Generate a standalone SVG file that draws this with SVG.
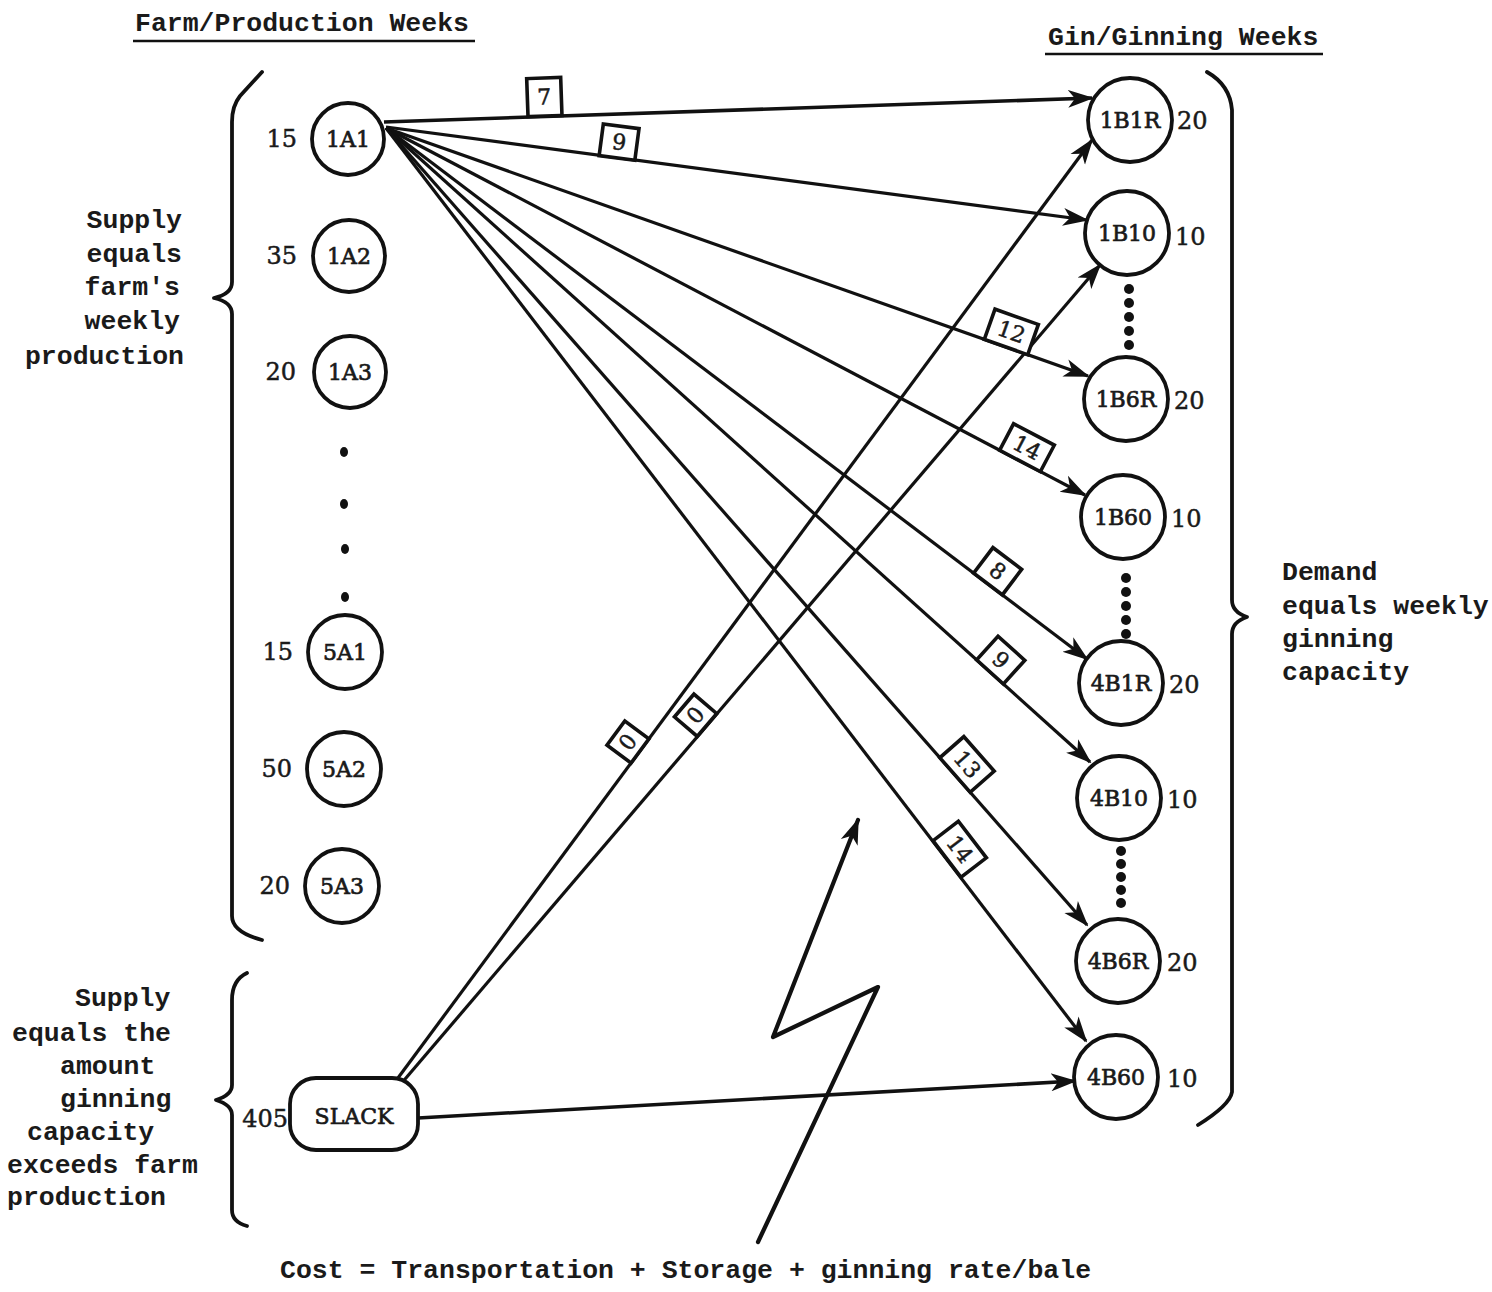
<svg xmlns="http://www.w3.org/2000/svg" width="1492" height="1292" viewBox="0 0 1492 1292">
  <style>
    .type { font-family: "Liberation Mono", "DejaVu Sans Mono", monospace; font-weight: bold; font-size: 26.5px; fill: #1a1a1a; }
    .lbl { font-family: "DejaVu Serif", "Liberation Serif", serif; font-size: 22px; fill: #1a1a1a; stroke: #1a1a1a; stroke-width: 0.7; text-anchor: middle; dominant-baseline: central; }
    .tag { font-family: "DejaVu Serif", "Liberation Serif", serif; font-size: 22px; fill: #1a1a1a; stroke: #1a1a1a; stroke-width: 0.5; text-anchor: middle; dominant-baseline: central; }
    .qty { font-family: "DejaVu Serif", "Liberation Serif", serif; font-size: 24px; fill: #1a1a1a; stroke: #1a1a1a; stroke-width: 0.5; }
    .node { fill: #fff; stroke: #111; stroke-width: 3.8; }
    .edge { fill: none; stroke: #111; stroke-width: 3.2; marker-end: url(#arr); }
    .brace { fill: none; stroke: #111; stroke-width: 3.8; stroke-linecap: round; stroke-linejoin: round; }
    .costbox { fill: #fff; stroke: #111; stroke-width: 3.6; }
    .dot { fill: #111; }
  </style>
  <defs>
    <marker id="arr" viewBox="0 0 26 20" refX="24" refY="10" markerWidth="26" markerHeight="20" markerUnits="userSpaceOnUse" orient="auto">
      <path d="M0,1 L26,10 L0,19 L7,10 Z" fill="#111"/>
    </marker>
  </defs>
  <rect width="1492" height="1292" fill="#fff"/>

  <!-- column headings -->
  <g id="headings">
    <text class="type" x="135" y="31">Farm/Production Weeks</text>
    <line x1="133" y1="41" x2="475" y2="41" stroke="#111" stroke-width="2.5"/>
    <text class="type" x="1048" y="45">Gin/Ginning Weeks</text>
    <line x1="1045" y1="54" x2="1323" y2="54" stroke="#111" stroke-width="2.5"/>
  </g>

  <!-- braces -->
  <g id="braces">
    <path class="brace" d="M262,72 L240,96 Q232,106 232,122 L232,282 Q232,294 214,298 Q232,302 232,314 L232,916 Q232,932 262,940"/>
    <path class="brace" d="M247,973 Q232,980 232,1000 L232,1085 Q232,1095 216,1100 Q232,1105 232,1115 L232,1210 Q232,1222 247,1226"/>
    <path class="brace" d="M1207,72 Q1230,85 1232,110 L1232,600 Q1232,612 1247,617 Q1232,622 1232,634 L1232,1092 Q1230,1105 1198,1125"/>
  </g>

  <!-- side notes -->
  <g id="notes" class="type">
    <text x="182" y="228" text-anchor="end">Supply</text>
    <text x="182" y="262" text-anchor="end">equals</text>
    <text x="180" y="295" text-anchor="end">farm's</text>
    <text x="180" y="329" text-anchor="end">weekly</text>
    <text x="184" y="364" text-anchor="end">production</text>

    <text x="75" y="1006">Supply</text>
    <text x="12" y="1041">equals the</text>
    <text x="60" y="1074">amount</text>
    <text x="60" y="1107">ginning</text>
    <text x="27" y="1140">capacity</text>
    <text x="7" y="1173">exceeds farm</text>
    <text x="7" y="1205">production</text>

    <text x="1282" y="580">Demand</text>
    <text x="1282" y="614">equals weekly</text>
    <text x="1282" y="647">ginning</text>
    <text x="1282" y="680">capacity</text>

    <text x="280" y="1278">Cost = Transportation + Storage + ginning rate/bale</text>
  </g>

  <!-- connectors -->
  <g id="connectors">
    <line class="edge" x1="384" y1="122" x2="1092" y2="98" style="stroke-width:3.6"/>
    <line class="edge" x1="386" y1="127" x2="1087" y2="220"/>
    <line class="edge" x1="386" y1="128" x2="1088" y2="376"/>
    <line class="edge" x1="386" y1="128" x2="1085" y2="495"/>
    <line class="edge" x1="386" y1="128" x2="1087" y2="659"/>
    <line class="edge" x1="386" y1="128" x2="1090" y2="762"/>
    <line class="edge" x1="386" y1="128" x2="1087" y2="925"/>
    <line class="edge" x1="386" y1="128" x2="1086" y2="1041"/>
    <line class="edge" x1="395" y1="1082" x2="1092" y2="140"/>
    <line class="edge" x1="400" y1="1085" x2="1100" y2="265"/>
    <line class="edge" x1="418" y1="1118" x2="1075" y2="1081" style="stroke-width:3.6"/>

    <!-- cost tags sitting on the arcs -->
    <g transform="translate(545,116) rotate(-2)"><rect class="costbox" x="-17" y="-38" width="34" height="38"/><text class="tag" x="0" y="-19">7</text></g>
    <g transform="translate(617,158) rotate(7.5)"><rect class="costbox" x="-18" y="-32" width="36" height="32"/><text class="tag" x="0" y="-16">9</text></g>
    <g transform="translate(1006,347) rotate(19.5)"><rect class="costbox" x="-23" y="-32" width="46" height="32"/><text class="tag" x="0" y="-16">12</text></g>
    <g transform="translate(1020,461) rotate(27.7)"><rect class="costbox" x="-23" y="-30" width="46" height="30"/><text class="tag" x="0" y="-15">14</text></g>
    <g transform="translate(988,584) rotate(37.1)"><rect class="costbox" x="-18" y="-32" width="36" height="32"/><text class="tag" x="0" y="-16">8</text></g>
    <g transform="translate(990,672) rotate(42)"><rect class="costbox" x="-18" y="-32" width="36" height="32"/><text class="tag" x="0" y="-16">9</text></g>
    <g transform="translate(955,775) rotate(48.7)"><rect class="costbox" x="-23" y="-32" width="46" height="32"/><text class="tag" x="0" y="-16">13</text></g>
    <g transform="translate(947,859) rotate(52.5)"><rect class="costbox" x="-23" y="-32" width="46" height="32"/><text class="tag" x="0" y="-16">14</text></g>
    <g transform="translate(640,751) rotate(-53.5)"><rect class="costbox" x="-15" y="-30" width="30" height="30"/><text class="tag" x="0" y="-15">0</text></g>
    <g transform="translate(707,725) rotate(-49.5)"><rect class="costbox" x="-15" y="-30" width="30" height="30"/><text class="tag" x="0" y="-15">0</text></g>

    <!-- cost pointer -->
    <polyline points="758,1242 878,987 773,1037 858,820" fill="none" stroke="#111" stroke-width="4.2" stroke-linejoin="round" stroke-linecap="round" marker-end="url(#arr)"/>
  </g>

  <!-- farm supply nodes -->
  <g id="n1A1"><circle class="node" cx="348" cy="139" r="36"/><text class="lbl" x="348" y="139">1A1</text><text class="qty" x="297" y="147" text-anchor="end">15</text></g>
  <g id="n1A2"><circle class="node" cx="349" cy="256" r="36"/><text class="lbl" x="349" y="256">1A2</text><text class="qty" x="297" y="264" text-anchor="end">35</text></g>
  <g id="n1A3"><circle class="node" cx="350" cy="372" r="36"/><text class="lbl" x="350" y="372">1A3</text><text class="qty" x="296" y="380" text-anchor="end">20</text></g>
  <g id="farm-dots">
    <ellipse class="dot" cx="344" cy="452" rx="4" ry="5"/>
    <ellipse class="dot" cx="344" cy="504" rx="4" ry="5"/>
    <ellipse class="dot" cx="345" cy="549" rx="4" ry="5"/>
    <ellipse class="dot" cx="345" cy="597" rx="4" ry="5"/>
  </g>
  <g id="n5A1"><circle class="node" cx="345" cy="652" r="37"/><text class="lbl" x="345" y="652">5A1</text><text class="qty" x="293" y="660" text-anchor="end">15</text></g>
  <g id="n5A2"><circle class="node" cx="344" cy="769" r="37"/><text class="lbl" x="344" y="769">5A2</text><text class="qty" x="292" y="777" text-anchor="end">50</text></g>
  <g id="n5A3"><circle class="node" cx="342" cy="886" r="37"/><text class="lbl" x="342" y="886">5A3</text><text class="qty" x="290" y="894" text-anchor="end">20</text></g>
  <g id="nSLACK"><rect class="node" x="290" y="1078" width="128" height="72" rx="26"/><text class="lbl" x="354" y="1116">SLACK</text><text class="qty" x="288" y="1127" text-anchor="end">405</text></g>

  <!-- gin demand nodes -->
  <g id="n1B1R"><circle class="node" cx="1130" cy="120" r="42"/><text class="lbl" x="1130" y="120">1B1R</text><text class="qty" x="1177" y="129">20</text></g>
  <g id="n1B10"><circle class="node" cx="1127" cy="233" r="42"/><text class="lbl" x="1127" y="233">1B10</text><text class="qty" x="1175" y="245">10</text></g>
  <g id="n1B6R"><circle class="node" cx="1126" cy="399" r="42"/><text class="lbl" x="1126" y="399">1B6R</text><text class="qty" x="1174" y="409">20</text></g>
  <g id="n1B60"><circle class="node" cx="1123" cy="517" r="42"/><text class="lbl" x="1123" y="517">1B60</text><text class="qty" x="1171" y="527">10</text></g>
  <g id="n4B1R"><circle class="node" cx="1121" cy="683" r="42"/><text class="lbl" x="1121" y="683">4B1R</text><text class="qty" x="1169" y="693">20</text></g>
  <g id="n4B10"><circle class="node" cx="1119" cy="798" r="42"/><text class="lbl" x="1119" y="798">4B10</text><text class="qty" x="1167" y="808">10</text></g>
  <g id="n4B6R"><circle class="node" cx="1118" cy="961" r="42"/><text class="lbl" x="1118" y="961">4B6R</text><text class="qty" x="1167" y="971">20</text></g>
  <g id="n4B60"><circle class="node" cx="1116" cy="1077" r="42"/><text class="lbl" x="1116" y="1077">4B60</text><text class="qty" x="1167" y="1087">10</text></g>
  <g id="gin-dots">
    <circle class="dot" cx="1129" cy="289" r="5"/>
    <circle class="dot" cx="1129" cy="303" r="5"/>
    <circle class="dot" cx="1129" cy="317" r="5"/>
    <circle class="dot" cx="1129" cy="331" r="5"/>
    <circle class="dot" cx="1129" cy="345" r="5"/>
    <circle class="dot" cx="1126" cy="578" r="5"/>
    <circle class="dot" cx="1126" cy="592" r="5"/>
    <circle class="dot" cx="1126" cy="606" r="5"/>
    <circle class="dot" cx="1126" cy="620" r="5"/>
    <circle class="dot" cx="1126" cy="634" r="5"/>
    <circle class="dot" cx="1121" cy="851" r="5"/>
    <circle class="dot" cx="1121" cy="864" r="5"/>
    <circle class="dot" cx="1121" cy="877" r="5"/>
    <circle class="dot" cx="1121" cy="890" r="5"/>
    <circle class="dot" cx="1121" cy="903" r="5"/>
  </g>
</svg>
